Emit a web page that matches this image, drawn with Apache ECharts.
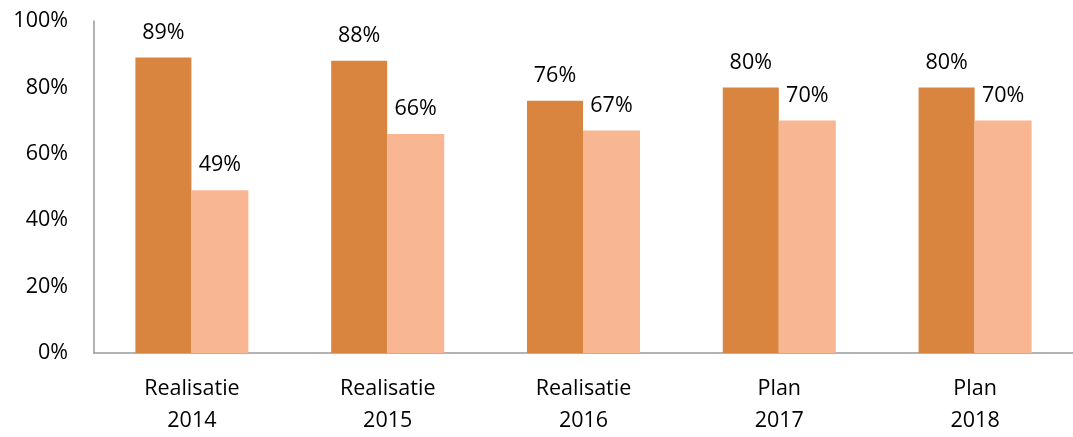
<!DOCTYPE html>
<html><head><meta charset="utf-8">
<script src="https://cdn.jsdelivr.net/npm/echarts@6/dist/echarts.min.js"></script>
<style>html,body{margin:0;padding:0;background:#fff;overflow:hidden}#c{width:1073px;height:437px}</style>
</head><body><div id="c"></div>
<script>
var categories = ['Realisatie\n2014','Realisatie\n2015','Realisatie\n2016','Plan\n2017','Plan\n2018'];
var seriesA = [89, 88, 76, 80, 80];
var seriesB = [49, 66, 67, 70, 70];
var yTicks = [0, 20, 40, 60, 80, 100];
var font = 'Open Sans';
var chart = echarts.init(document.getElementById('c'));
chart.setOption({
  animation: false,
  textStyle: {fontFamily: font},
  grid: {left: 94, right: -9, top: 21, bottom: 80},
  xAxis: {
    type: 'category', data: categories,
    axisLine: {lineStyle: {color: '#999', width: 1.5}},
    axisTick: {show: false},
    axisLabel: {color: '#000', fontSize: 21.5, lineHeight: 32, margin: 20, fontFamily: font}
  },
  yAxis: {
    type: 'value', min: 0, max: 100, interval: 20,
    axisLine: {show: true, lineStyle: {color: '#999', width: 1.5}},
    axisTick: {show: false},
    splitLine: {show: false},
    axisLabel: {color: '#000', fontSize: 21.5, margin: 26, fontFamily: font,
      formatter: function(v){ return yTicks.indexOf(v) >= 0 ? v + '%' : ''; }}
  },
  series: [
    {type: 'bar', data: seriesA, barWidth: 56, barGap: '0%',
     itemStyle: {color: '#D9843F'},
     label: {show: true, position: 'top', distance: 14, color: '#000', fontSize: 21.5, fontFamily: font, formatter: '{c}%'}},
    {type: 'bar', data: seriesB, barWidth: 57,
     itemStyle: {color: '#F8B692'},
     label: {show: true, position: 'top', distance: 14, color: '#000', fontSize: 21.5, fontFamily: font, formatter: '{c}%'}}
  ]
});
</script></body></html>
